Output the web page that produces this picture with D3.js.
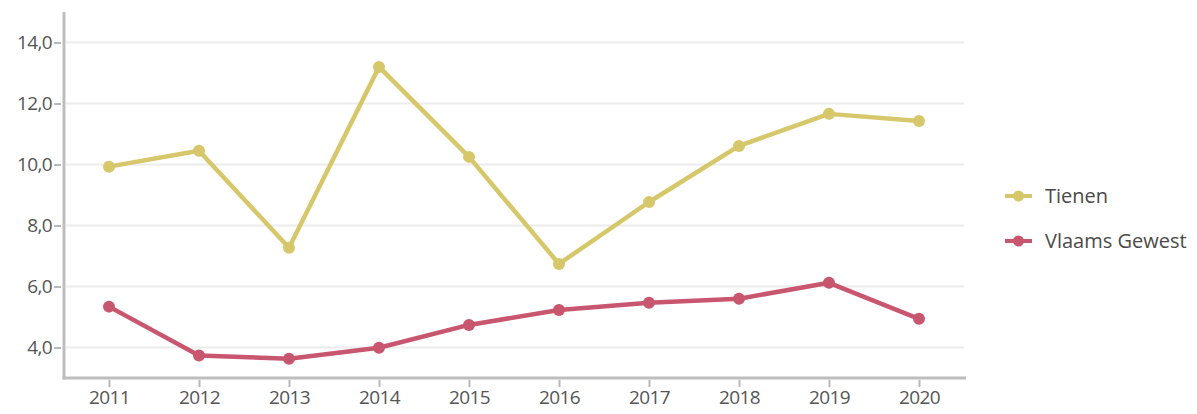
<!DOCTYPE html>
<html><head><meta charset="utf-8">
<script src="https://cdn.jsdelivr.net/npm/d3@7"></script>
<style>body{margin:0;background:#fff}svg{display:block}</style>
</head><body><div id="chart"></div>
<script>
const years = ["2011","2012","2013","2014","2015","2016","2017","2018","2019","2020"];
const tienen = [9.93, 10.45, 7.27, 13.2, 10.25, 6.74, 8.77, 10.61, 11.66, 11.43];
const vlaams = [5.34, 3.74, 3.63, 3.99, 4.74, 5.23, 5.47, 5.6, 6.12, 4.94];
const seriesNames = ["Tienen", "Vlaams Gewest"];
const seriesColors = ["#d6c76a", "#c9566f"];
const yTicks = [4, 6, 8, 10, 12, 14];

const W = 1197, H = 414;
const svg = d3.select("#chart").append("svg").attr("width", W).attr("height", H);
const pLeft = 64, pRight = 964, pTop = 12, pBottom = 378;
const x = d3.scalePoint().domain(years).range([pLeft, pRight]).padding(0.5);
const y = d3.scaleLinear().domain([3, 15]).range([pBottom, pTop]);
const font = "'Open Sans', sans-serif";

// gridlines
svg.append("g").selectAll("line").data(yTicks).join("line")
  .attr("x1", pLeft + 2).attr("x2", pRight).attr("y1", d => y(d)).attr("y2", d => y(d))
  .attr("stroke", "#ececec").attr("stroke-width", 2);

// y axis
const fmt = d => d3.format(".1f")(d).replace(".", ",");
const ya = svg.append("g").attr("transform", `translate(${pLeft},0)`)
  .call(d3.axisLeft(y).tickValues(yTicks).tickFormat(fmt).tickSize(8).tickPadding(4));
ya.select(".domain").remove();
ya.selectAll(".tick line").attr("stroke", "#b8b8b8").attr("stroke-width", 2).attr("x1", -10).attr("x2", -3);
ya.selectAll(".tick text").attr("font-family", font).attr("font-size", 19).attr("fill", "#555").attr("letter-spacing", "-0.6px");
svg.append("line").attr("x1", pLeft).attr("x2", pLeft).attr("y1", pTop).attr("y2", pBottom + 1.5)
  .attr("stroke", "#bdbdbd").attr("stroke-width", 3);

// x axis
const xa = svg.append("g").attr("transform", `translate(0,${pBottom})`)
  .call(d3.axisBottom(x).tickSize(9).tickPadding(4));
xa.select(".domain").remove();
xa.selectAll(".tick line").attr("stroke", "#b8b8b8").attr("stroke-width", 2).attr("y1", 2);
xa.selectAll(".tick text").attr("font-family", font).attr("font-size", 19).attr("fill", "#555").attr("letter-spacing", "-0.6px");
svg.append("line").attr("x1", pLeft - 1.5).attr("x2", pRight + 2).attr("y1", pBottom).attr("y2", pBottom)
  .attr("stroke", "#bdbdbd").attr("stroke-width", 3);

// series
const data = [tienen, vlaams];
const line = d3.line().x((d, i) => x(years[i])).y(d => y(d));
data.forEach((vals, s) => {
  svg.append("path").datum(vals).attr("d", line).attr("fill", "none")
    .attr("stroke", seriesColors[s]).attr("stroke-width", 4.5).attr("stroke-linejoin", "round");
  svg.append("g").selectAll("circle").data(vals).join("circle")
    .attr("cx", (d, i) => x(years[i])).attr("cy", d => y(d)).attr("r", 6)
    .attr("fill", seriesColors[s]);
});

// legend
const lg = svg.append("g");
seriesNames.forEach((n, i) => {
  const ly = 196 + i * 45;
  lg.append("line").attr("x1", 1005).attr("x2", 1032).attr("y1", ly).attr("y2", ly)
    .attr("stroke", seriesColors[i]).attr("stroke-width", 4);
  lg.append("circle").attr("cx", 1018.5).attr("cy", ly).attr("r", 5.5).attr("fill", seriesColors[i]);
  lg.append("text").attr("x", 1045).attr("y", ly).attr("dy", "0.36em")
    .attr("font-family", font).attr("font-size", 20).attr("fill", "#4a4a4a").text(n);
});
</script></body></html>
